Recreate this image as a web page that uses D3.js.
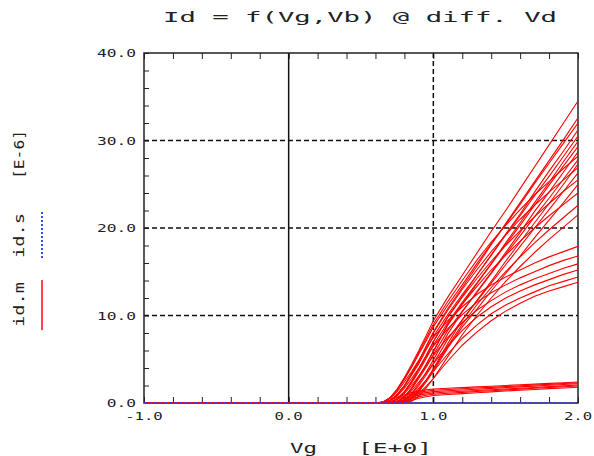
<!DOCTYPE html>
<html>
<head>
<meta charset="utf-8">
<script src="https://cdn.jsdelivr.net/npm/d3@7"></script>
<style>
    body { margin: 0; background: #fff; }
    text { font-family: "DejaVu Sans Mono", monospace; fill: #222; }
</style>
</head>
<body>
<script>
//gate voltage sweep shared by every measured curve
var vgSweep = [-1.0, 0.6, 0.65, 0.7, 0.75, 0.8, 0.85, 0.9, 0.95, 1.0, 1.1, 1.2, 1.3, 1.4, 1.5, 1.6, 1.7, 1.8, 1.9, 2.0];

//measured id.m [E-6], one row per Vb step, grouped by Vd
var idVd005 = [
    [0, 0, 0.05, 0.3, 0.65, 0.95, 1.2, 1.38, 1.5, 1.6, 1.68, 1.76, 1.84, 1.92, 2.0, 2.08, 2.16, 2.24, 2.32, 2.4],
    [0, 0, 0, 0.12, 0.45, 0.8, 1.05, 1.22, 1.35, 1.45, 1.54, 1.62, 1.71, 1.79, 1.88, 1.96, 2.05, 2.13, 2.22, 2.3],
    [0, 0, 0, 0.02, 0.25, 0.6, 0.88, 1.06, 1.19, 1.3, 1.4, 1.49, 1.58, 1.67, 1.76, 1.84, 1.93, 2.02, 2.11, 2.2],
    [0, 0, 0, 0, 0.1, 0.4, 0.7, 0.9, 1.03, 1.15, 1.25, 1.34, 1.43, 1.52, 1.6, 1.69, 1.78, 1.87, 1.96, 2.05],
    [0, 0, 0, 0, 0, 0.2, 0.5, 0.72, 0.88, 1.0, 1.11, 1.21, 1.31, 1.4, 1.5, 1.59, 1.68, 1.77, 1.86, 1.95],
    [0, 0, 0, 0, 0, 0.05, 0.3, 0.55, 0.72, 0.85, 0.97, 1.07, 1.17, 1.27, 1.37, 1.46, 1.55, 1.64, 1.72, 1.8]
];
var idVd05 = [
    [0, 0, 0.1, 0.5, 1.3, 2.4, 3.6, 4.9, 6.2, 7.5, 9.4, 11.0, 12.4, 13.5, 14.4, 15.2, 16.0, 16.7, 17.3, 17.9],
    [0, 0, 0, 0.25, 0.8, 1.7, 2.8, 4.0, 5.3, 6.5, 8.5, 10.1, 11.5, 12.6, 13.5, 14.3, 15.0, 15.7, 16.3, 16.8],
    [0, 0, 0, 0.04, 0.4, 1.1, 2.0, 3.1, 4.2, 5.4, 7.5, 9.2, 10.6, 11.7, 12.7, 13.5, 14.2, 14.8, 15.4, 15.9],
    [0, 0, 0, 0, 0.12, 0.6, 1.4, 2.4, 3.4, 4.5, 6.5, 8.3, 9.8, 11.0, 12.0, 12.8, 13.5, 14.1, 14.7, 15.2],
    [0, 0, 0, 0, 0, 0.3, 0.9, 1.7, 2.6, 3.6, 5.6, 7.4, 8.9, 10.2, 11.2, 12.0, 12.7, 13.4, 13.9, 14.4],
    [0, 0, 0, 0, 0, 0.08, 0.45, 1.1, 1.9, 2.8, 4.8, 6.6, 8.1, 9.4, 10.5, 11.4, 12.2, 12.8, 13.3, 13.8]
];
var idVd10 = [
    [0, 0, 0.1, 0.58, 1.5, 2.8, 4.2, 5.8, 7.4, 9.0, 11.6, 14.0, 16.3, 18.4, 20.3, 22.1, 23.8, 25.3, 26.8, 28.2],
    [0, 0, 0, 0.29, 0.95, 2.0, 3.3, 4.75, 6.4, 8.0, 10.6, 13.0, 15.2, 17.3, 19.2, 21.0, 22.6, 24.1, 25.5, 26.9],
    [0, 0, 0, 0.05, 0.47, 1.3, 2.4, 3.9, 5.4, 7.0, 9.8, 12.1, 14.2, 16.2, 18.0, 19.7, 21.3, 22.8, 24.2, 25.5],
    [0, 0, 0, 0, 0.14, 0.74, 1.7, 3.0, 4.4, 5.9, 9.0, 11.3, 13.3, 15.2, 16.9, 18.5, 20.0, 21.4, 22.7, 24.0],
    [0, 0, 0, 0, 0, 0.2, 0.7, 1.5, 2.6, 3.8, 6.5, 9.0, 11.2, 13.2, 15.0, 16.7, 18.3, 19.8, 21.2, 22.6],
    [0, 0, 0, 0, 0, 0, 0.2, 0.8, 1.7, 2.8, 5.3, 7.8, 10.0, 12.0, 13.9, 15.6, 17.2, 18.7, 20.1, 21.5]
];
var idVd15 = [
    [0, 0, 0.1, 0.56, 1.5, 2.7, 4.1, 5.6, 7.1, 8.7, 11.2, 13.5, 15.9, 18.2, 20.4, 22.7, 25.1, 27.4, 29.7, 32.0],
    [0, 0, 0, 0.27, 0.9, 1.9, 3.2, 4.5, 6.1, 7.6, 10.1, 12.4, 14.6, 16.9, 19.2, 21.4, 23.7, 25.9, 28.2, 30.5],
    [0, 0, 0, 0.04, 0.44, 1.2, 2.3, 3.6, 5.1, 6.6, 9.2, 11.5, 13.7, 15.9, 18.1, 20.3, 22.6, 24.9, 27.1, 29.3],
    [0, 0, 0, 0, 0.13, 0.69, 1.6, 2.8, 4.1, 5.5, 8.3, 10.5, 12.6, 14.8, 17.0, 19.1, 21.3, 23.4, 25.6, 27.8],
    [0, 0, 0, 0, 0, 0.33, 1.0, 2.0, 3.2, 4.5, 7.3, 9.5, 11.6, 13.7, 15.8, 17.9, 20.0, 22.1, 24.2, 26.3],
    [0, 0, 0, 0, 0, 0.08, 0.49, 1.3, 2.4, 3.6, 6.3, 8.7, 10.7, 12.8, 14.8, 16.8, 18.9, 20.9, 22.9, 25.0]
];
var idVd20 = [
    [0, 0, 0.1, 0.6, 1.6, 2.9, 4.4, 6.0, 7.7, 9.4, 12.1, 14.6, 17.1, 19.6, 22.0, 24.5, 27.0, 29.5, 32.0, 34.5],
    [0, 0, 0, 0.3, 1.0, 2.0, 3.4, 4.8, 6.5, 8.1, 10.8, 13.2, 15.6, 18.1, 20.5, 22.9, 25.3, 27.7, 30.1, 32.6],
    [0, 0, 0, 0.05, 0.5, 1.3, 2.5, 3.9, 5.4, 7.0, 9.8, 12.2, 14.6, 16.9, 19.3, 21.6, 24.1, 26.5, 28.8, 31.2],
    [0, 0, 0, 0, 0.14, 0.74, 1.7, 3.0, 4.4, 5.9, 8.9, 11.3, 13.6, 15.9, 18.3, 20.6, 22.9, 25.2, 27.6, 29.9],
    [0, 0, 0, 0, 0, 0.36, 1.1, 2.2, 3.5, 4.9, 7.9, 10.4, 12.7, 14.9, 17.2, 19.5, 21.9, 24.1, 26.4, 28.7],
    [0, 0, 0, 0, 0, 0.09, 0.53, 1.4, 2.6, 3.9, 6.8, 9.5, 11.7, 13.9, 16.2, 18.4, 20.6, 22.8, 25.0, 27.3]
];

//simulated id.s (flat at zero)
var simVg = [-1.0, 2.0];
var simId = [0, 0];

//axis ticks, labels and grid positions
var xTickValues = [-1, 0, 1, 2];
var xTickLabels = ["-1.0", "0.0", "1.0", "2.0"];
var yTickValues = [0, 10, 20, 30, 40];
var yTickLabels = ["0.0", "10.0", "20.0", "30.0", "40.0"];
var xGridDashed = [1.0];
var xGridSolid = [0.0];
var yGridDashed = [10, 20, 30];

window.onload = setChart;

function setChart(){
    var width = 594,
        height = 456,
        left = 144,
        right = 578,
        top = 53,
        bottom = 403;

    var svg = d3.select("body")
        .append("svg")
        .attr("width", width)
        .attr("height", height);

    var x = d3.scaleLinear().domain([-1, 2]).range([left, right]);
    var y = d3.scaleLinear().domain([0, 40]).range([bottom, top]);

    //clip for curves
    svg.append("clipPath")
        .attr("id", "plotClip")
        .append("rect")
        .attr("x", left)
        .attr("y", top - 1)
        .attr("width", right - left)
        .attr("height", bottom - top + 2);

    //minor ticks, pointing inward
    var tickStyle = function(g){
        g.select(".domain").remove();
        g.selectAll(".tick line").attr("stroke", "#222").attr("stroke-width", 1);
    };
    svg.append("g")
        .attr("transform", "translate(0," + bottom + ")")
        .call(d3.axisBottom(x).ticks(15).tickSize(-6).tickSizeOuter(0).tickFormat(""))
        .call(tickStyle);
    svg.append("g")
        .attr("transform", "translate(0," + top + ")")
        .call(d3.axisTop(x).ticks(15).tickSize(-6).tickSizeOuter(0).tickFormat(""))
        .call(tickStyle);
    svg.append("g")
        .attr("transform", "translate(" + left + ",0)")
        .call(d3.axisLeft(y).ticks(20).tickSize(-5).tickSizeOuter(0).tickFormat(""))
        .call(tickStyle);

    //grid lines
    svg.selectAll(".gridX")
        .data(xGridDashed)
        .enter()
        .append("line")
        .attr("x1", function(d){ return x(d); })
        .attr("x2", function(d){ return x(d); })
        .attr("y1", top)
        .attr("y2", bottom)
        .attr("stroke", "#111")
        .attr("stroke-width", 1.5)
        .attr("stroke-dasharray", "5,3");
    svg.selectAll(".gridY")
        .data(yGridDashed)
        .enter()
        .append("line")
        .attr("x1", left)
        .attr("x2", right)
        .attr("y1", function(d){ return y(d); })
        .attr("y2", function(d){ return y(d); })
        .attr("stroke", "#111")
        .attr("stroke-width", 1.5)
        .attr("stroke-dasharray", "5,3");
    svg.selectAll(".zeroX")
        .data(xGridSolid)
        .enter()
        .append("line")
        .attr("x1", function(d){ return x(d); })
        .attr("x2", function(d){ return x(d); })
        .attr("y1", top)
        .attr("y2", bottom)
        .attr("stroke", "#111")
        .attr("stroke-width", 1.5);

    //frame
    svg.append("rect")
        .attr("x", left)
        .attr("y", top)
        .attr("width", right - left)
        .attr("height", bottom - top)
        .attr("fill", "none")
        .attr("stroke", "#222")
        .attr("stroke-width", 1.5);

    //measured curves
    var line = d3.line()
        .x(function(d, i){ return x(vgSweep[i]); })
        .y(function(d){ return y(d); });
    var curves = [].concat(idVd005, idVd05, idVd10, idVd15, idVd20);
    svg.append("g")
        .attr("clip-path", "url(#plotClip)")
        .selectAll(".curve")
        .data(curves)
        .enter()
        .append("path")
        .attr("d", line)
        .attr("fill", "none")
        .attr("stroke", "#ff0000")
        .attr("stroke-width", 1.1);

    //simulated curve
    var simLine = d3.line()
        .x(function(d, i){ return x(simVg[i]); })
        .y(function(d){ return y(d); });
    svg.append("path")
        .datum(simId)
        .attr("d", simLine)
        .attr("fill", "none")
        .attr("stroke", "#2f3cff")
        .attr("stroke-width", 1.5)
        .attr("stroke-dasharray", "3,2");

    //tick labels
    svg.selectAll(".xLabel")
        .data(xTickValues)
        .enter()
        .append("text")
        .attr("x", function(d){ return x(d); })
        .attr("y", 420)
        .attr("text-anchor", "middle")
        .attr("font-size", 11)
        .attr("textLength", function(d, i){ return xTickLabels[i].length * 9.4; })
        .attr("lengthAdjust", "spacingAndGlyphs")
        .text(function(d, i){ return xTickLabels[i]; });
    svg.selectAll(".yLabel")
        .data(yTickValues)
        .enter()
        .append("text")
        .attr("x", 136)
        .attr("y", function(d){ return y(d) + 4; })
        .attr("text-anchor", "end")
        .attr("font-size", 10)
        .attr("textLength", function(d, i){ return yTickLabels[i].length * 9.75; })
        .attr("lengthAdjust", "spacingAndGlyphs")
        .text(function(d, i){ return yTickLabels[i]; });

    //title
    svg.append("text")
        .attr("x", 163)
        .attr("y", 22)
        .attr("font-size", 14)
        .attr("textLength", 394)
        .attr("lengthAdjust", "spacingAndGlyphs")
        .text("Id = f(Vg,Vb) @ diff. Vd");

    //x axis title
    svg.append("text")
        .attr("x", 290)
        .attr("y", 453)
        .attr("font-size", 14)
        .attr("textLength", 27)
        .attr("lengthAdjust", "spacingAndGlyphs")
        .text("Vg");
    svg.append("text")
        .attr("x", 358)
        .attr("y", 453)
        .attr("font-size", 14)
        .attr("textLength", 74)
        .attr("lengthAdjust", "spacingAndGlyphs")
        .text("[E+0]");

    //rotated legend on the left
    var legend = [
        { label: "id.m", y0: 327, len: 45, y1: 280, y2: 330, color: "#ff4444", dash: null },
        { label: "id.s", y0: 258, len: 45, y1: 212, y2: 258, color: "#3a4cff", dash: "2,2" }
    ];
    legend.forEach(function(d){
        svg.append("text")
            .attr("transform", "translate(24," + d.y0 + ") rotate(-90)")
            .attr("font-size", 14)
            .attr("textLength", d.len)
            .attr("lengthAdjust", "spacingAndGlyphs")
            .text(d.label);
        svg.append("line")
            .attr("x1", 42)
            .attr("x2", 42)
            .attr("y1", d.y1)
            .attr("y2", d.y2)
            .attr("stroke", d.color)
            .attr("stroke-width", 2)
            .attr("stroke-dasharray", d.dash);
    });
    svg.append("text")
        .attr("transform", "translate(24,179) rotate(-90)")
        .attr("font-size", 14)
        .attr("textLength", 49)
        .attr("lengthAdjust", "spacingAndGlyphs")
        .text("[E-6]");
};
</script>
</body>
</html>
